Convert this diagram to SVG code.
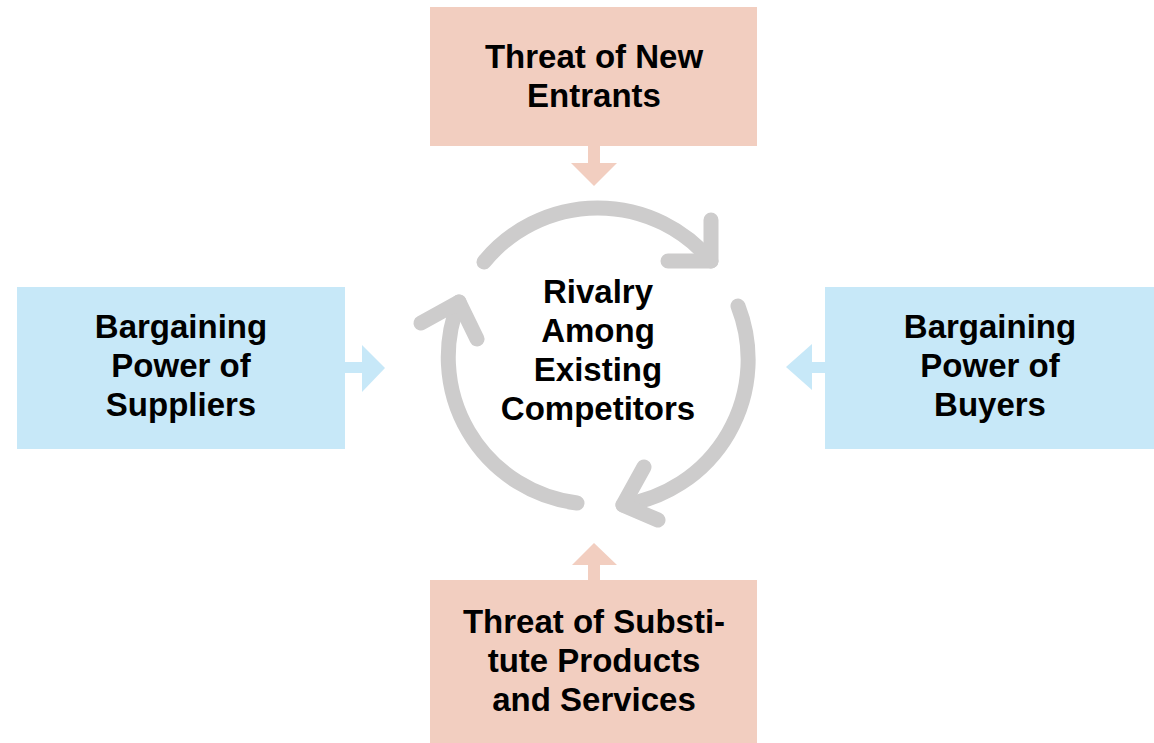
<svg xmlns="http://www.w3.org/2000/svg" width="1154" height="743" viewBox="0 0 1154 743">
  <style>
    .threat { fill: #F2CEC0; }
    .power { fill: #C7E8F8; }
    .label { font-family: "Liberation Sans", Arial, sans-serif; font-weight: bold; font-size: 33px; fill: #000; text-anchor: middle; }
    .cycle { fill: none; stroke: #CDCCCC; stroke-width: 15; stroke-linecap: round; stroke-linejoin: round; }
  </style>
  <rect width="1154" height="743" fill="#FFFFFF"/>

  <!-- force boxes -->
  <g id="new-entrants">
    <rect class="threat" x="430" y="7" width="327" height="139"/>
    <text class="label" x="594" y="68">Threat of New</text>
    <text class="label" x="594" y="107">Entrants</text>
  </g>
  <g id="suppliers">
    <rect class="power" x="17" y="287" width="328" height="162"/>
    <text class="label" x="181" y="338">Bargaining</text>
    <text class="label" x="181" y="377">Power of</text>
    <text class="label" x="181" y="416">Suppliers</text>
  </g>
  <g id="buyers">
    <rect class="power" x="825" y="287" width="329" height="162"/>
    <text class="label" x="990" y="338">Bargaining</text>
    <text class="label" x="990" y="377">Power of</text>
    <text class="label" x="990" y="416">Buyers</text>
  </g>
  <g id="substitutes">
    <rect class="threat" x="430" y="580" width="327" height="163"/>
    <text class="label" x="594" y="633">Threat of Substi-</text>
    <text class="label" x="594" y="672">tute Products</text>
    <text class="label" x="594" y="711">and Services</text>
  </g>
  <g id="rivalry">
    <text class="label" x="598" y="303">Rivalry</text>
    <text class="label" x="598" y="342">Among</text>
    <text class="label" x="598" y="381">Existing</text>
    <text class="label" x="598" y="420">Competitors</text>
  </g>

  <!-- connectors -->
  <g id="connectors">
    <!-- block arrows pointing inward from each force -->
    <path class="threat" d="M588 146 H600 V163 H617 L594 186 L571 163 H588 Z"/>
    <path class="threat" d="M588 580 V565 H572 L594 543 L617 565 H600 V580 Z"/>
    <path class="power" d="M345 362 H362 V345 L385 368 L362 392 V373 H345 Z"/>
    <path class="power" d="M825 362 H812 V344 L786 367 L812 390 V373 H825 Z"/>

    <!-- rivalry cycle -->
    <path class="cycle" d="M484 262 A147 147 0 0 1 711 261"/>
    <path class="cycle" d="M711 220 V261 H668"/>
    <path class="cycle" d="M738 306 A147 147 0 0 1 623 505"/>
    <path class="cycle" d="M644 467 L623 505 L658 520"/>
    <path class="cycle" d="M577 503 A147 147 0 0 1 459 302"/>
    <path class="cycle" d="M421 323 L459 302 L477 339"/>
  </g>
</svg>
